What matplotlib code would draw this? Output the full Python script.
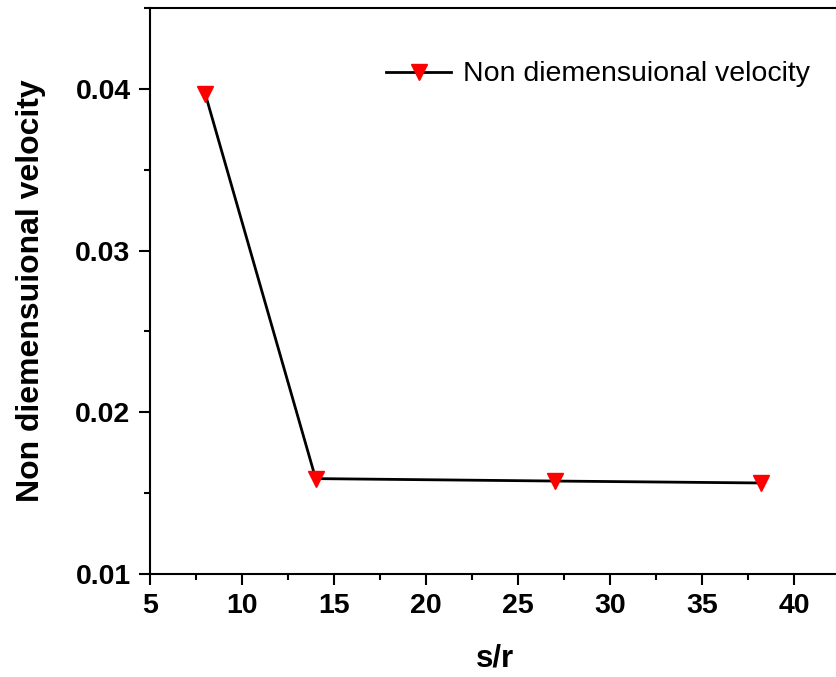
import numpy as np
import matplotlib.pyplot as plt
from matplotlib.ticker import MultipleLocator

plt.rcParams['font.family'] = ['Liberation Sans', 'DejaVu Sans']

# s/r ratio and the non dimensional velocity read for each case
s_r = [8, 14, 27, 38.2]
velocity = [0.0397, 0.0159, 0.01575, 0.01563]

fig = plt.figure(figsize=(8.36, 6.77), dpi=100)
ax = fig.add_axes([0.1794, 0.1521, 0.8258, 0.8361])

ax.plot(s_r, velocity, color='black', lw=2, marker='v', ms=11,
        mfc='red', mec='red', label='Non diemensuional velocity')

ax.set_xlim(5, 42.5)
ax.set_ylim(0.01, 0.045)
ax.xaxis.set_major_locator(MultipleLocator(5))
ax.xaxis.set_minor_locator(MultipleLocator(2.5))
ax.yaxis.set_major_locator(MultipleLocator(0.01))
ax.yaxis.set_minor_locator(MultipleLocator(0.005))
ax.yaxis.set_major_formatter(plt.FormatStrFormatter('%.2f'))

for s in ax.spines.values():
    s.set_linewidth(1.5)

ax.tick_params(which='major', direction='out', length=8, width=1.5,
               labelsize=20.5, pad=6, top=False, right=False)
ax.tick_params(which='minor', direction='out', length=4.5, width=1.5,
               top=False, right=False)
for lab in ax.get_xticklabels() + ax.get_yticklabels():
    lab.set_fontweight('bold')

ax.set_xlabel('s/r', fontsize=22.5, fontweight='bold', labelpad=17)
ax.set_ylabel('Non diemensuional velocity', fontsize=23, fontweight='bold', labelpad=21)

ax.legend(loc='upper left', bbox_to_anchor=(0.448, 0.926), bbox_transform=fig.transFigure,
          frameon=False, fontsize=20.5, handlelength=2.3, handletextpad=0.4,
          borderaxespad=0)

fig.savefig('out.png', dpi=100)
